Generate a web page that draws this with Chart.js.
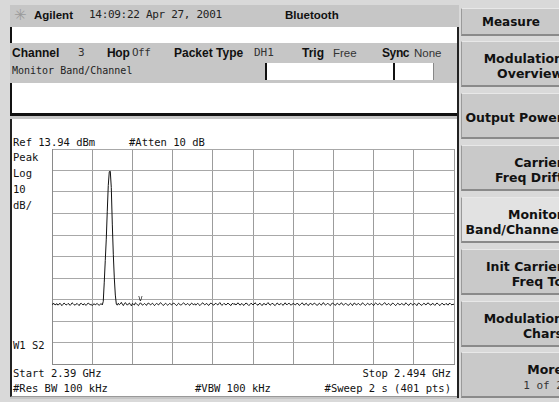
<!DOCTYPE html>
<html>
<head>
<meta charset="utf-8">
<script src="https://cdn.jsdelivr.net/npm/chart.js@4.4.1/dist/chart.umd.min.js"></script>
<style>
  html,body{margin:0;padding:0;}
  body{width:559px;height:402px;overflow:hidden;background:#d9d9d9;position:relative;font-family:"DejaVu Sans Mono",monospace;color:#111;}
  .abs{position:absolute;white-space:nowrap;}
  .mono{font-family:"DejaVu Sans Mono",monospace;font-size:10.5px;line-height:12px;}
  .bold{font-family:"Liberation Sans",Arial,sans-serif;font-weight:bold;font-size:12px;line-height:14px;}
  .reg{font-family:"DejaVu Sans Mono",monospace;font-size:11px;line-height:14px;color:#333;}
  .key{position:absolute;left:461px;width:98px;height:46px;background:#c9c9c9;border-top:1px solid #e8e8e8;border-left:1px solid #9a9a9a;border-bottom:2px solid #8a8a8a;box-sizing:border-box;}
  .key .t{position:absolute;right:-4px;text-align:right;font-family:"DejaVu Sans",sans-serif;font-weight:bold;font-size:12.5px;line-height:15px;color:#111;white-space:nowrap;}
</style>
</head>
<body>
<!-- instrument frame -->
<div class="abs" style="left:10px;top:5px;width:449px;height:394px;background:#c6c6c6;"></div>
<div class="abs" style="left:10px;top:27px;width:445px;height:16px;background:#fff;border-left:2px solid #111;border-right:2px solid #222;"></div>
<div class="abs" style="left:265px;top:63px;width:126px;height:17px;background:#fff;border-left:2px solid #111;"></div>
<div class="abs" style="left:393px;top:63px;width:38px;height:17px;background:#fff;border-left:2px solid #111;border-right:1px solid #888;"></div>
<div class="abs" style="left:10px;top:83px;width:445px;height:30px;background:#fff;border-left:2px solid #111;border-right:2px solid #222;border-bottom:3px solid #111;"></div>
<div class="abs" style="left:10px;top:119px;width:445px;height:277px;background:#fff;border-left:2px solid #222;border-right:2px solid #222;border-bottom:1px solid #999;"></div>
<div class="abs" style="left:457px;top:27px;width:2px;height:371px;background:#222;"></div>

<!-- title row -->
<div class="abs" style="left:14px;top:6px;font-size:15px;line-height:18px;color:#9a9a9a;font-family:'DejaVu Sans',sans-serif;">✳</div>
<div class="abs bold" style="left:34px;top:8px;font-size:11.5px;">Agilent</div>
<div class="abs reg" style="left:89px;top:8px;font-size:11px;color:#222;letter-spacing:-0.3px;">14:09:22 Apr 27, 2001</div>
<div class="abs bold" style="left:285px;top:8px;font-size:11.5px;">Bluetooth</div>

<!-- channel row -->
<div class="abs bold" style="left:12px;top:46px;">Channel</div>
<div class="abs reg" style="left:78px;top:46px;">3</div>
<div class="abs bold" style="left:107px;top:46px;letter-spacing:-0.3px;">Hop</div>
<div class="abs reg" style="left:132px;top:46px;letter-spacing:-0.5px;">Off</div>
<div class="abs bold" style="left:174px;top:46px;">Packet Type</div>
<div class="abs reg" style="left:254px;top:46px;">DH1</div>
<div class="abs bold" style="left:302px;top:46px;">Trig</div>
<div class="abs reg" style="left:333px;top:46px;font-family:'Liberation Sans',sans-serif;font-size:11.5px;">Free</div>
<div class="abs bold" style="left:382px;top:46px;letter-spacing:-0.4px;">Sync</div>
<div class="abs reg" style="left:414px;top:46px;font-family:'Liberation Sans',sans-serif;font-size:11.5px;">None</div>
<div class="abs mono" style="left:12px;top:65px;font-size:10px;color:#222;">Monitor Band/Channel</div>

<!-- graph annotations -->
<div class="abs mono" style="left:13px;top:136px;">Ref 13.94 dBm</div>
<div class="abs mono" style="left:129px;top:136px;">#Atten 10 dB</div>
<div class="abs mono" style="left:13px;top:151px;">Peak</div>
<div class="abs mono" style="left:13px;top:167px;">Log</div>
<div class="abs mono" style="left:13px;top:183px;">10</div>
<div class="abs mono" style="left:13px;top:199px;">dB/</div>
<div class="abs mono" style="left:13px;top:339px;">W1 S2</div>
<div class="abs mono" style="left:13px;top:367px;">Start 2.39 GHz</div>
<div class="abs mono" style="left:13px;top:382px;">#Res BW 100 kHz</div>
<div class="abs mono" style="left:195px;top:382px;">#VBW 100 kHz</div>
<div class="abs mono" style="right:108px;top:367px;">Stop 2.494 GHz</div>
<div class="abs mono" style="right:108px;top:382px;">#Sweep 2 s (401 pts)</div>

<canvas id="c" width="406" height="219" style="position:absolute;left:50px;top:147px;"></canvas>

<!-- soft keys -->
<div class="key" style="top:8px;height:28px;"><div class="t" style="right:auto;left:0;width:98px;text-align:center;top:6px;font-size:12px;">Measure</div></div>
<div class="key" style="top:41px;"><div class="t" style="top:9px;">Modulation<br>Overview</div></div>
<div class="key" style="top:93px;"><div class="t" style="top:16px;">Output Power</div></div>
<div class="key" style="top:145px;"><div class="t" style="top:9px;">Carrier<br>Freq Drift</div></div>
<div class="key" style="top:197px;background:#e2e2e2;"><div class="t" style="top:9px;">Monitor<br>Band/Channel</div></div>
<div class="key" style="top:249px;"><div class="t" style="top:9px;">Init Carrier<br>Freq To</div></div>
<div class="key" style="top:301px;"><div class="t" style="top:9px;">Modulation<br>Chars</div></div>
<div class="key" style="top:352px;"><div class="t" style="top:9px;">More<br><span style="font-family:'DejaVu Sans Mono',monospace;font-weight:normal;font-size:11px;color:#333;">1 of 2</span></div></div>

<script>
// ---- sweep settings ----
const startMHz = 2390;
const stopMHz = 2494;
const sweepPoints = 401;
const refLevel = 13.94;
const dbPerDiv = 10;
const divisions = 10;

// ---- trace (dBm), 401 points ----
const traceNoiseLow = [
-58.4,-58.1,-57.9,-58.6,-58.3,-58.0,-58.7,-58.2,-57.8,-58.5,
-58.9,-58.3,-57.7,-58.1,-58.6,-58.4,-57.9,-58.2,-58.8,-58.3,
-57.6,-58.0,-58.5,-58.7,-58.2,-57.9,-58.4,-58.9,-58.1,-57.8,
-58.3,-58.6,-58.0,-58.4,-58.8,-58.2,-57.7,-58.1,-58.5,-58.3,
-58.9,-58.4,-58.0,-58.6,-58.2,-57.9,-58.5,-58.7,-58.3,-58.0
];
const tracePeak = [
-58.6,-57.0,-48.0,-38.0,-28.0,-15.0,-3.0,3.4,3.6,-4.0,-21.0,-35.0,-46.0,-54.0,-58.2,-58.7
];
const traceNoiseHigh = [
-57.8,-58.5,-58.1,-57.4,-58.3,-58.9,-58.0,-57.5,-58.2,-58.7,
-58.1,-57.7,-58.4,-59.0,-57.9,-58.3,-58.6,-57.6,-58.0,-58.5,
-58.9,-58.2,-57.6,-58.1,-58.7,-58.4,-57.9,-58.3,-58.8,-58.0,
-57.7,-58.2,-58.6,-58.1,-57.8,-58.4,-58.9,-58.3,-57.9,-58.2,
-58.6,-58.0,-57.5,-58.1,-58.5,-58.8,-58.2,-57.8,-58.3,-58.7,
-58.4,-57.9,-58.1,-58.6,-58.2,-57.7,-58.0,-58.5,-58.9,-58.3,
-57.8,-58.2,-58.7,-58.4,-58.0,-57.6,-58.1,-58.6,-58.3,-57.9,
-58.4,-58.8,-58.1,-57.7,-58.3,-58.5,-58.0,-58.7,-58.2,-57.8,
-58.3,-58.9,-58.4,-58.0,-57.6,-58.2,-58.6,-58.1,-57.9,-58.5,
-58.8,-58.2,-57.7,-58.0,-58.4,-58.7,-58.1,-57.8,-58.3,-58.6,
-58.0,-57.5,-58.2,-58.8,-58.4,-57.9,-58.1,-58.6,-58.3,-57.7,
-58.2,-58.5,-58.9,-58.1,-57.8,-58.4,-58.0,-58.6,-58.2,-57.6,
-58.1,-58.7,-58.3,-57.9,-58.5,-58.8,-58.2,-57.7,-58.0,-58.4,
-58.9,-58.3,-57.8,-58.1,-58.6,-58.2,-57.6,-58.0,-58.5,-58.7,
-58.1,-57.8,-58.4,-58.9,-58.2,-57.9,-58.3,-58.6,-58.0,-57.5,
-58.2,-58.7,-58.4,-57.8,-58.1,-58.5,-58.9,-58.3,-57.7,-58.0,
-58.6,-58.2,-57.9,-58.4,-58.8,-58.1,-57.6,-58.3,-58.5,-58.0,
-57.8,-58.4,-58.7,-58.2,-57.9,-58.1,-58.6,-58.3,-57.7,-58.2,
-58.8,-58.5,-58.0,-57.6,-58.3,-58.7,-58.1,-57.8,-58.4,-58.9,
-58.2,-57.9,-58.0,-58.6,-58.3,-57.7,-58.1,-58.5,-58.8,-58.2,
-57.8,-58.3,-58.7,-58.0,-57.5,-58.2,-58.6,-58.4,-57.9,-58.1,
-58.5,-58.9,-58.2,-57.7,-58.0,-58.4,-58.8,-58.1,-57.8,-58.3,
-58.6,-58.0,-57.6,-58.2,-58.7,-58.3,-57.9,-58.1,-58.5,-58.8,
-58.2,-57.8,-58.4,-58.9,-58.0,-57.7,-58.3,-58.6,-58.1,-57.9,
-58.4,-58.7,-58.2,-57.6,-58.0,-58.5,-58.8,-58.3,-57.8,-58.1,
-58.6,-58.2,-57.9,-58.4,-58.9,-58.1,-57.7,-58.0,-58.5,-58.3,
-57.8,-58.2,-58.7,-58.4,-58.0,-57.5,-58.1,-58.6,-58.3,-57.9,
-58.4,-58.8,-58.2,-57.7,-58.0,-58.5,-58.9,-58.3,-57.8,-58.1,
-58.6,-58.3,-57.9,-58.2,-58.7,-58.4,-57.6,-58.0,-58.5,-58.8,
-58.1,-57.8,-58.3,-58.6,-58.2,-57.9,-58.4,-58.9,-58.0,-57.7,
-58.2,-58.5,-58.8,-58.3,-57.8,-58.1,-58.6,-58.2,-57.6,-58.0,
-58.4,-58.7,-58.1,-57.9,-58.3,-58.8,-58.2,-57.7,-58.0,-58.5,
-58.9,-58.3,-57.8,-58.1,-58.6,-58.4,-57.9,-58.2,-58.7,-58.0,
-57.8,-58.3,-58.6,-58.2,-58.4
];
const traceDbm = traceNoiseLow.concat(tracePeak, traceNoiseHigh);

// ---- marker ("v" above trace) ----
const markerFreqMHz = [2412.9];
const markerDbm = [-55.8];
const markerLabels = ["v"];

const stepMHz = (stopMHz - startMHz) / (sweepPoints - 1);
const points = traceDbm.map((v, i) => ({ x: startMHz + i * stepMHz, y: v }));

const markerPlugin = {
  id: 'markerText',
  afterDatasetsDraw(chart) {
    const { ctx, scales } = chart;
    ctx.save();
    ctx.font = '8px "DejaVu Sans Mono", monospace';
    ctx.fillStyle = '#222';
    ctx.textAlign = 'center';
    ctx.textBaseline = 'middle';
    markerFreqMHz.forEach((f, i) => {
      ctx.fillText(markerLabels[i], scales.x.getPixelForValue(f), scales.y.getPixelForValue(markerDbm[i]));
    });
    ctx.restore();
  }
};

const yMin = refLevel - dbPerDiv * divisions;
new Chart(document.getElementById('c'), {
  type: 'line',
  data: {
    datasets: [{
      data: points,
      borderColor: '#111',
      borderWidth: 1,
      pointRadius: 0,
      tension: 0,
      fill: false
    }]
  },
  options: {
    responsive: false,
    animation: false,
    devicePixelRatio: 1,
    layout: { padding: { left: 2, right: 2, top: 2, bottom: 2 } },
    plugins: { legend: { display: false }, tooltip: { enabled: false } },
    scales: {
      x: {
        type: 'linear',
        min: startMHz, max: stopMHz,
        afterBuildTicks(axis) {
          axis.ticks = Array.from({ length: divisions + 1 }, (_, i) => ({ value: startMHz + i * (stopMHz - startMHz) / divisions }));
        },
        ticks: { display: false },
        grid: { color: '#9c9c9c', lineWidth: 1, drawTicks: false },
        border: { display: true, color: '#8a8a8a' }
      },
      y: {
        type: 'linear',
        min: yMin, max: refLevel,
        afterBuildTicks(axis) {
          axis.ticks = Array.from({ length: divisions + 1 }, (_, i) => ({ value: yMin + i * dbPerDiv }));
        },
        ticks: { display: false },
        grid: { color: '#a8a8a8', lineWidth: 1, drawTicks: false },
        border: { display: true, color: '#8a8a8a' }
      }
    }
  },
  plugins: [markerPlugin]
});
</script>
</body>
</html>
